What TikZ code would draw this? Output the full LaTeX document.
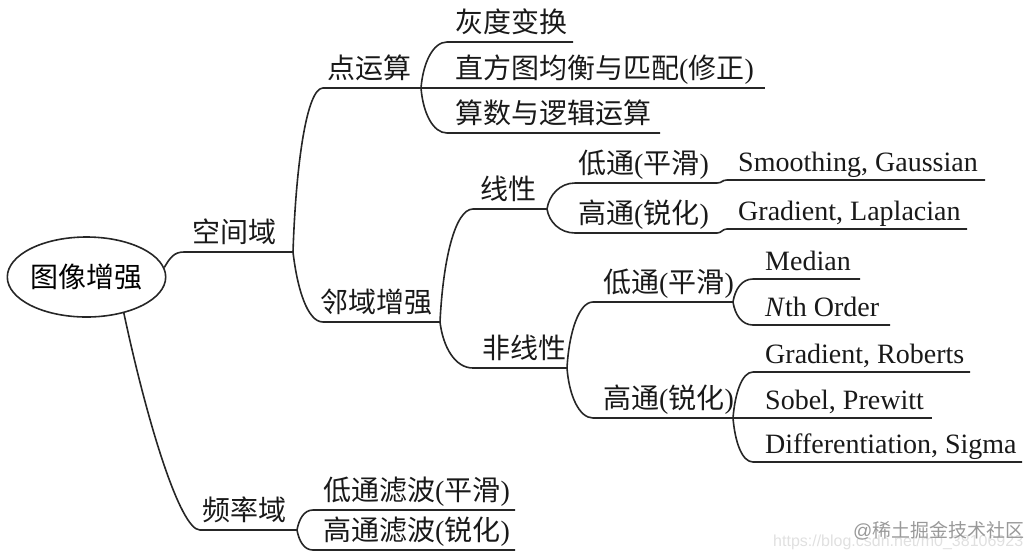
\documentclass[tikz,border=0pt]{standalone}
\usepackage{fontspec}
\setmainfont{Liberation Serif}
\newfontfamily\zhfont{Noto Sans CJK SC}
\newfontfamily\wmfont{Liberation Sans}
\usetikzlibrary{shapes.geometric}
\newcommand\zh[1]{{\zhfont #1}}
\begin{document}
\begin{tikzpicture}[x=1pt,y=-1pt,
  conn/.style={draw=black!85, line width=1.6pt},
  lbl/.style={anchor=base west, inner sep=0pt, text=black!90, font=\fontsize{28}{32}\selectfont},
  rootbox/.style={ellipse, draw=black!85, line width=1.6pt, inner sep=0pt, minimum width=157pt, minimum height=80pt, font=\fontsize{28}{32}\selectfont}
]
\useasboundingbox (0,0) rectangle (1030,558);

% root
\node[rootbox] (root) at (86.5,277) {\zh{图像增强}};

% ---- level 1: spatial domain
\coordinate (kjS) at (184,252); \coordinate (kjE) at (293,252);
\node[lbl] (kj) at (192,242) {\zh{空间域}};
\draw[conn] (root.7) .. controls +(6,-10) and +(-10,0) .. (kjS) -- (kjE);

% point operations
\coordinate (dysS) at (323,88); \coordinate (dysE) at (421,88);
\node[lbl] (dys) at (327,78) {\zh{点运算}};
\draw[conn] (kjE) .. controls +(3,-90) and +(-16,0) .. (dysS) -- (dysE);

\coordinate (hdS) at (447,42); \coordinate (hdE) at (573,42);
\node[lbl] (hd) at (455,32) {\zh{灰度变换}};
\draw[conn] (dysE) .. controls +(2,-25) and +(-14,0) .. (hdS) -- (hdE);

\coordinate (zftE) at (765,88);
\node[lbl] (zft) at (455,78) {\zh{直方图均衡与匹配}(\zh{修正})};
\draw[conn] (dysE) -- (zftE);

\coordinate (ssS) at (447,133); \coordinate (ssE) at (660,133);
\node[lbl] (ss) at (455,123) {\zh{算数与逻辑运算}};
\draw[conn] (dysE) .. controls +(2,25) and +(-14,0) .. (ssS) -- (ssE);

% neighbourhood enhancement
\coordinate (lyS) at (323,322); \coordinate (lyE) at (440,322);
\node[lbl] (ly) at (320,312) {\zh{邻域增强}};
\draw[conn] (kjE) .. controls +(4,35) and +(-16,0) .. (lyS) -- (lyE);

% linear
\coordinate (xxS) at (473,209); \coordinate (xxE) at (547,209);
\node[lbl] (xx) at (480,199) {\zh{线性}};
\draw[conn] (lyE) .. controls +(3,-62) and +(-18,0) .. (xxS) -- (xxE);

\coordinate (dtaS) at (575,183); \coordinate (dtaE) at (717,183);
\node[lbl] (dta) at (578,173) {\zh{低通}(\zh{平滑})};
\draw[conn] (xxE) .. controls +(2,-14) and +(-15,0) .. (dtaS) -- (dtaE);

\coordinate (smS) at (727,180); \coordinate (smE) at (985,180);
\node[lbl] (sm) at (738,171) {Smoothing, Gaussian};
\draw[conn] (dtaE) .. controls +(5,0) and +(-5,0) .. (smS) -- (smE);

\coordinate (gtaS) at (575,233); \coordinate (gtaE) at (717,233);
\node[lbl] (gta) at (578,223) {\zh{高通}(\zh{锐化})};
\draw[conn] (xxE) .. controls +(2,13) and +(-15,0) .. (gtaS) -- (gtaE);

\coordinate (glS) at (727,229); \coordinate (glE) at (967,229);
\node[lbl] (gl) at (738,220) {Gradient, Laplacian};
\draw[conn] (gtaE) .. controls +(5,0) and +(-5,0) .. (glS) -- (glE);

% nonlinear
\coordinate (fxS) at (473,368); \coordinate (fxE) at (567,368);
\node[lbl] (fx) at (482,358) {\zh{非线性}};
\draw[conn] (lyE) .. controls +(3,25) and +(-18,0) .. (fxS) -- (fxE);

\coordinate (dtbS) at (593,302); \coordinate (dtbE) at (733,302);
\node[lbl] (dtb) at (603,292) {\zh{低通}(\zh{平滑})};
\draw[conn] (fxE) .. controls +(2,-36) and +(-14,0) .. (dtbS) -- (dtbE);

\coordinate (mdS) at (753,279); \coordinate (mdE) at (860,279);
\node[lbl] (md) at (765,270) {Median};
\draw[conn] (dtbE) .. controls +(2,-13) and +(-11,0) .. (mdS) -- (mdE);

\coordinate (noS) at (753,325); \coordinate (noE) at (890,325);
\node[lbl] (no) at (765,316) {\textit{N}th Order};
\draw[conn] (dtbE) .. controls +(2,13) and +(-11,0) .. (noS) -- (noE);

\coordinate (gtbS) at (593,418); \coordinate (gtbE) at (733,418);
\node[lbl] (gtb) at (603,408) {\zh{高通}(\zh{锐化})};
\draw[conn] (fxE) .. controls +(2,27) and +(-14,0) .. (gtbS) -- (gtbE);

\coordinate (grS) at (753,372); \coordinate (grE) at (970,372);
\node[lbl] (gr) at (765,363) {Gradient, Roberts};
\draw[conn] (gtbE) .. controls +(2,-25) and +(-11,0) .. (grS) -- (grE);

\coordinate (spE) at (932,418);
\node[lbl] (sp) at (765,409) {Sobel, Prewitt};
\draw[conn] (gtbE) -- (spE);

\coordinate (dfS) at (753,462); \coordinate (dfE) at (1022,462);
\node[lbl] (df) at (765,453) {Differentiation, Sigma};
\draw[conn] (gtbE) .. controls +(2,24) and +(-11,0) .. (dfS) -- (dfE);

% ---- level 1: frequency domain
\coordinate (plS) at (200,530); \coordinate (plE) at (297,530);
\node[lbl] (pl) at (202,520) {\zh{频率域}};
\draw[conn] (root.-44) .. controls +(23,108) and +(-20,0) .. (plS) -- (plE);

\coordinate (dlS) at (313,510); \coordinate (dlE) at (515,510);
\node[lbl] (dl) at (323,500) {\zh{低通滤波}(\zh{平滑})};
\draw[conn] (plE) .. controls +(2,-11) and +(-9,0) .. (dlS) -- (dlE);

\coordinate (hlS) at (313,550); \coordinate (hlE) at (515,550);
\node[lbl] (hl) at (323,540) {\zh{高通滤波}(\zh{锐化})};
\draw[conn] (plE) .. controls +(2,11) and +(-9,0) .. (hlS) -- (hlE);

% watermarks
\node[anchor=base west, inner sep=0pt, text=black!12, font=\wmfont\fontsize{16}{18}\selectfont] (url) at (773,546) {https://blog.csdn.net/m0\_38106923};
\node[anchor=base west, inner sep=0pt, text=black!40, font=\fontsize{19}{22}\selectfont] (wm) at (853,537) {\wmfont @\zh{稀土掘金技术社区}};
\end{tikzpicture}
\end{document}
